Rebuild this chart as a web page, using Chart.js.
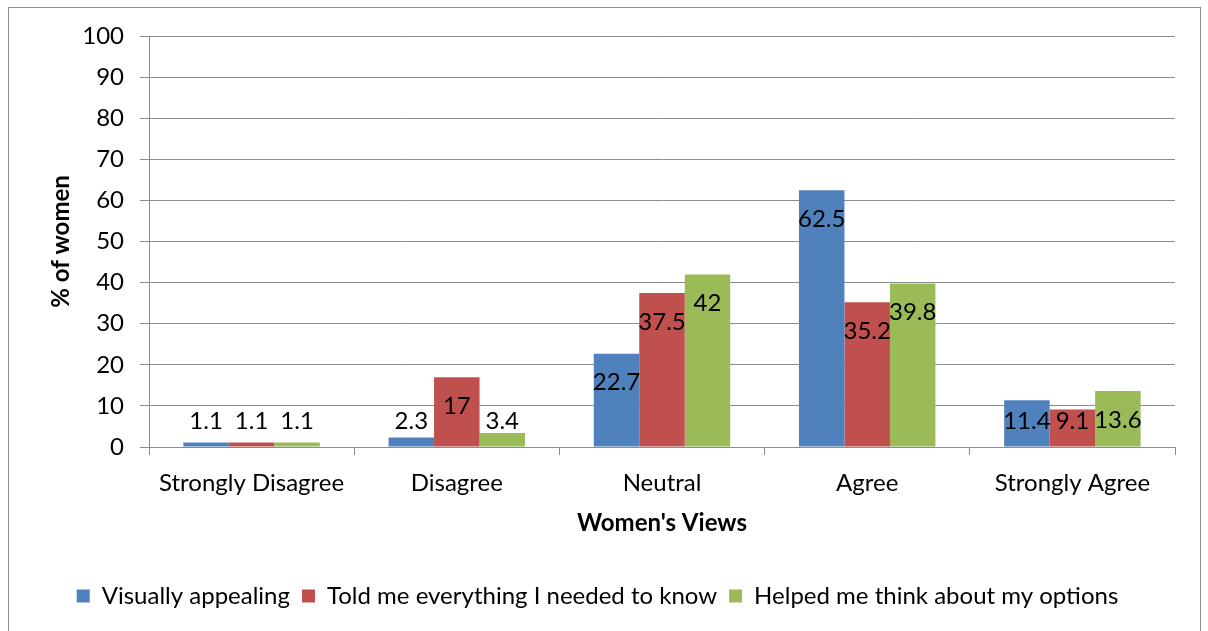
<!DOCTYPE html>
<html>
<head>
<meta charset="utf-8">
<script src="https://cdn.jsdelivr.net/npm/chart.js@4.4.1/dist/chart.umd.min.js"></script>
<style>
  html, body { margin: 0; padding: 0; background: #fff; }
  canvas { display: block; }
</style>
</head>
<body>
<canvas id="chart" width="1208" height="631"></canvas>
<script>
// women's views bar chart
const categories = ['Strongly Disagree', 'Disagree', 'Neutral', 'Agree', 'Strongly Agree'];
const visuallyAppealing = [1.1, 2.3, 22.7, 62.5, 11.4];
const toldEverything = [1.1, 17, 37.5, 35.2, 9.1];
const helpedThink = [1.1, 3.4, 42, 39.8, 13.6];
const seriesNames = ['Visually appealing', 'Told me everything I needed to know', 'Helped me think about my options'];

const FONT = 'Lato, "Open Sans", sans-serif';
const FS = 24;
const GRID = '#8c8c8c';
const PAD_BOTTOM = 13;
const PLOT_BOTTOM = 447;

// outer frame like the Excel chart border
const framePlugin = {
  id: 'frame',
  beforeDraw(chart) {
    const ctx = chart.ctx;
    ctx.save();
    ctx.fillStyle = '#fff';
    ctx.fillRect(0, 0, chart.width, chart.height);
    ctx.strokeStyle = '#8c8c8c';
    ctx.lineWidth = 1;
    ctx.strokeRect(8.5, 7.5, 1192, 700);
    ctx.restore();
  }
};

// value labels at the inside end of each bar
const valueLabels = {
  id: 'valueLabels',
  afterDatasetsDraw(chart) {
    const ctx = chart.ctx;
    const floor = chart.scales.y.getPixelForValue(0) - 26;
    ctx.save();
    ctx.font = FS + 'px ' + FONT;
    ctx.fillStyle = '#000';
    ctx.textAlign = 'center';
    ctx.textBaseline = 'middle';
    chart.data.datasets.forEach((ds, i) => {
      chart.getDatasetMeta(i).data.forEach((bar, j) => {
        const y = Math.min(bar.y + 29, floor);
        ctx.fillText(String(ds.data[j]), bar.x, y);
      });
    });
    ctx.restore();
  }
};

new Chart(document.getElementById('chart'), {
  type: 'bar',
  data: {
    labels: categories,
    datasets: [
      { label: seriesNames[0], data: visuallyAppealing, backgroundColor: '#4F81BD' },
      { label: seriesNames[1], data: toldEverything, backgroundColor: '#C0504D' },
      { label: seriesNames[2], data: helpedThink, backgroundColor: '#9BBB59' },
    ],
  },
  options: {
    responsive: false,
    devicePixelRatio: 1,
    animation: false,
    categoryPercentage: 0.665,
    barPercentage: 1,
    layout: { padding: { left: 20, right: 33, top: 36, bottom: PAD_BOTTOM } },
    plugins: {
      tooltip: { enabled: false },
      legend: {
        position: 'bottom',
        labels: {
          color: '#000',
          font: { family: FONT, size: FS },
          boxWidth: 13,
          boxHeight: 13,
          padding: 12,
        },
      },
    },
    scales: {
      x: {
        grid: { drawOnChartArea: false, drawTicks: true, tickLength: 8, color: GRID },
        border: { color: GRID },
        ticks: {
          color: '#000',
          font: { family: FONT, size: FS },
          padding: 14,
          autoSkip: false,
          maxRotation: 0,
        },
        title: {
          display: true,
          text: "Women's Views",
          color: '#000',
          font: { family: FONT, size: FS, weight: 'bold' },
          padding: { top: 0, bottom: 34 },
        },
        afterFit(scale) {
          const legendH = scale.chart.legend ? scale.chart.legend.height : 51;
          scale.height = scale.chart.height - PAD_BOTTOM - legendH - PLOT_BOTTOM;
        },
      },
      y: {
        min: 0,
        max: 100,
        ticks: {
          stepSize: 10,
          color: '#000',
          font: { family: FONT, size: FS },
          padding: 16,
        },
        grid: { color: GRID, tickLength: 9 },
        border: { color: GRID },
        title: {
          display: true,
          text: '% of women',
          color: '#000',
          font: { family: FONT, size: FS, weight: 'bold' },
          padding: { top: 27, bottom: 0 },
        },
        afterFit(scale) {
          scale.width = 129;
        },
      },
    },
  },
  plugins: [framePlugin, valueLabels],
});
</script>
</body>
</html>
